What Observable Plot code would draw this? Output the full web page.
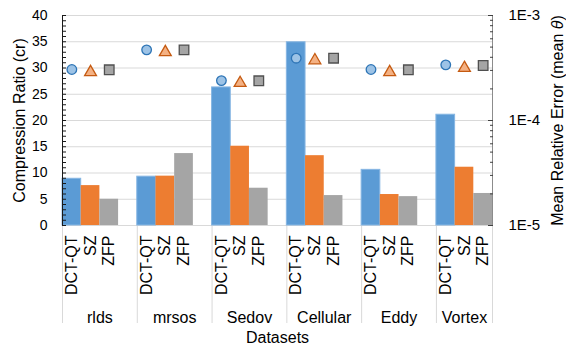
<!DOCTYPE html>
<html>
<head>
<meta charset="utf-8">
<script src="https://cdn.jsdelivr.net/npm/d3@7"></script>
<script src="https://cdn.jsdelivr.net/npm/@observablehq/plot@0.6"></script>
<style>
  html, body { margin: 0; padding: 0; background: #fff; }
  #chart { width: 566px; height: 345px; }
</style>
</head>
<body>
<div id="chart"></div>
<script>
// ---- data ----
const datasets = ["rlds", "mrsos", "Sedov", "Cellular", "Eddy", "Vortex"];
const methods = ["DCT-QT", "SZ", "ZFP"];
// Compression ratio (cr), left axis
const crDCT = [8.9, 9.3, 26.3, 34.9, 10.6, 21.1];
const crSZ  = [7.6, 9.4, 15.1, 13.3, 5.9, 11.1];
const crZFP = [5.0, 13.7, 7.1, 5.7, 5.5, 6.1];
// Mean relative error (mean theta), right log axis
const errDCT = [3.06e-4, 4.71e-4, 2.40e-4, 3.92e-4, 3.06e-4, 3.39e-4];
const errSZ  = [2.99e-4, 4.64e-4, 2.36e-4, 3.88e-4, 2.99e-4, 3.28e-4];
const errZFP = [3.04e-4, 4.71e-4, 2.39e-4, 3.92e-4, 3.04e-4, 3.34e-4];
const leftTicks = [0, 5, 10, 15, 20, 25, 30, 35, 40];
const rightTicks = [1e-5, 1e-4, 1e-3];

// ---- derived ----
const crs = [crDCT, crSZ, crZFP];
const errs = [errDCT, errSZ, errZFP];
const slotsPerGroup = methods.length + 1;
const rows = datasets.flatMap((d, gi) => methods.map((m, mi) => ({
  dataset: d, method: m, slot: gi * slotsPerGroup + mi, cr: crs[mi][gi], err: errs[mi][gi]
})));
const xMax = d3.max(rows, r => r.slot) + 1;
const groups = datasets.map((d, gi) => {
  const start = gi * slotsPerGroup;
  const end = Math.min(start + slotsPerGroup, xMax);
  return {dataset: d, start, center: (start + end) / 2};
});
const boundaries = groups.map(g => g.start).concat([xMax]);

const yMax = d3.max(leftTicks);
const yLog = d3.scaleLog().domain(d3.extent(rightTicks)).range([0, yMax]);
const minorLog = [];
for (let i = 0; i < rightTicks.length - 1; i++) {
  for (let k = 2; k <= 9; k++) minorLog.push(k * rightTicks[i]);
}
const fmtE = v => "1E" + Math.round(Math.log10(yLog.invert(v)));

const colors = ["#5B9BD5", "#ED7D31", "#A5A5A5"];
const markerStyle = [
  {symbol: "circle", r: 4.8, fill: "#9DC3E6", stroke: "#2E75B6", dy: 0},
  {symbol: "triangle", r: 4.4, fill: "#F4B183", stroke: "#C55A11", dy: 1.7},
  {symbol: "square", r: 5.4, fill: "#A5A5A5", stroke: "#505050", dy: 0}
];

const chart = Plot.plot({
  width: 566,
  height: 345,
  marginLeft: 62,
  marginRight: 74,
  marginTop: 15,
  marginBottom: 120,
  style: {fontFamily: "'Liberation Sans', Arial, sans-serif", fontSize: "14px", color: "#000", background: "#fff"},
  x: {type: "linear", domain: [0, xMax], axis: null},
  y: {domain: [0, yMax], axis: null},
  color: {domain: methods, range: colors},
  marks: [
    Plot.gridY(leftTicks.filter(t => t > 0), {stroke: "#d9d9d9", strokeOpacity: 1}),
    Plot.ruleY([0], {stroke: "#d9d9d9"}),
    // category separators below plot
    Plot.axisX({ticks: boundaries, tickSize: 98, stroke: "#d9d9d9", tickFormat: () => "", label: null}),
    // bars
    Plot.rectY(rows, {x1: "slot", x2: d => d.slot + 1, y1: 0, y2: "cr", fill: "method",
      stroke: d => d.method === methods[0] ? "#86b6e3" : "none", strokeWidth: 1, inset: 0}),
    // markers
    ...methods.map((m, mi) => Plot.dot(rows.filter(r => r.method === m), {
      x: d => d.slot + 0.5, y: d => yLog(d.err),
      symbol: markerStyle[mi].symbol, r: markerStyle[mi].r,
      fill: markerStyle[mi].fill, stroke: markerStyle[mi].stroke, strokeWidth: 1.3,
      dy: markerStyle[mi].dy
    })),
    // axis lines
    Plot.ruleX([0], {stroke: "#1a1a1a"}),
    Plot.ruleX([xMax], {stroke: "#8c8c8c"}),
    // left axis
    Plot.axisY({anchor: "left", ticks: d3.range(0, yMax + 1, 1), tickSize: -4, tickFormat: () => "", label: null, stroke: "#1a1a1a"}),
    Plot.axisY({anchor: "left", ticks: leftTicks, tickSize: 0, tickPadding: 15, fontSize: 14, label: null}),
    Plot.axisY({anchor: "left", ticks: [], tickSize: 0, fontSize: 16,
      label: "Compression Ratio (cr)", labelArrow: false, labelAnchor: "center", labelOffset: 49}),
    // right axis
    Plot.axisY({anchor: "right", ticks: minorLog.map(yLog), tickSize: -3, tickFormat: () => "", label: null, stroke: "#404040"}),
    Plot.axisY({anchor: "right", ticks: rightTicks.map(yLog), tickSize: -5, tickPadding: 21, tickFormat: fmtE, fontSize: 15,
      stroke: "#404040", label: null}),
    Plot.axisY({anchor: "right", ticks: [], tickSize: 0, fontSize: 16,
      label: "Mean Relative Error (mean θ)", labelArrow: false, labelAnchor: "center", labelOffset: 70}),
    // method labels
    Plot.text(rows, {x: d => d.slot + 0.5, frameAnchor: "bottom", dy: 10, text: "method",
      rotate: -90, textAnchor: "end", lineAnchor: "middle", fontSize: 16, fill: "#000"}),
    // dataset labels
    Plot.text(groups, {x: "center", frameAnchor: "bottom", dy: 92, text: "dataset",
      lineAnchor: "middle", fontSize: 16, fill: "#000"}),
    Plot.text(["Datasets"], {frameAnchor: "bottom", dy: 112, text: d => d,
      lineAnchor: "middle", fontSize: 16, fill: "#000"})
  ]
});
document.getElementById("chart").appendChild(chart);
chart.querySelectorAll("text").forEach(t => {
  if (t.textContent.includes("θ")) {
    t.innerHTML = 'Mean Relative Error (mean <tspan font-style="italic">θ</tspan>)';
  }
});
</script>
</body>
</html>
